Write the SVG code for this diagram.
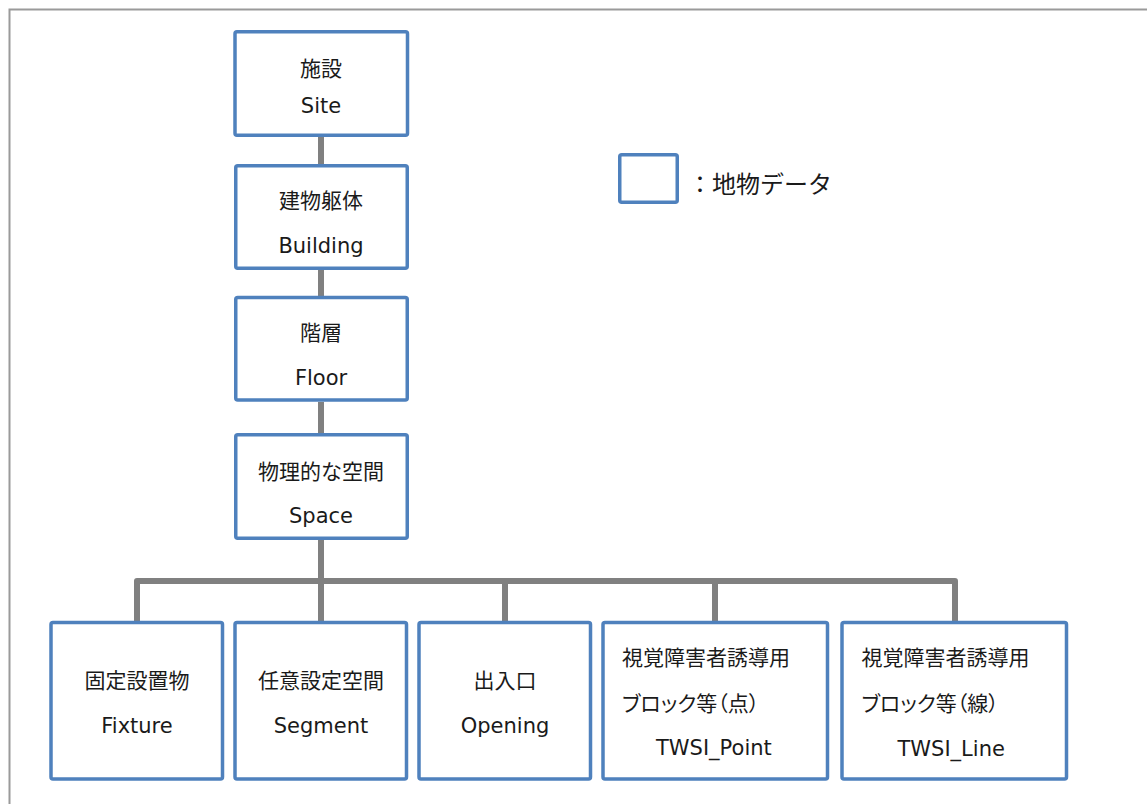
<svg xmlns="http://www.w3.org/2000/svg" width="1147" height="804" viewBox="0 0 1147 804">
<style>
.frame{fill:none;stroke:#9a9a9a;stroke-width:2}
.box{fill:#ffffff;stroke:#4f81bd;stroke-width:3.5}
.conn{fill:none;stroke:#808080;stroke-width:6;stroke-linejoin:round}
text{font-family:"DejaVu Sans","Noto Sans CJK JP",sans-serif;font-size:21px;fill:#1a1a1a}
.c{text-anchor:middle}
.palt{font-feature-settings:"palt"}
.legend{font-size:24px}
</style>
<rect width="1147" height="804" fill="#ffffff"/>
<path class="frame" d="M9.5,804 V9.5 H1147"/>
<g id="connectors">
<path class="conn" d="M321,137 V164"/>
<path class="conn" d="M321,270 V296"/>
<path class="conn" d="M321,402 V433"/>
<path class="conn" d="M321,540 V621"/>
<path class="conn" d="M137,621 V581 H955 V621"/>
<path class="conn" d="M505,581 V621"/>
<path class="conn" d="M715,581 V621"/>
</g>
<g id="site">
<rect class="box" x="235" y="31.75" width="172.5" height="103.5" rx="2"/>
<text class="c" x="321" y="76">施設</text>
<text class="c" x="321" y="113">Site</text>
</g>
<g id="building">
<rect class="box" x="235.75" y="165.75" width="171.5" height="102.5" rx="2"/>
<text class="c" x="321" y="208">建物躯体</text>
<text class="c" x="321" y="252.5">Building</text>
</g>
<g id="floor">
<rect class="box" x="235.75" y="297.5" width="171.5" height="102.5" rx="2"/>
<text class="c" x="321" y="340">階層</text>
<text class="c" x="321" y="385">Floor</text>
</g>
<g id="space">
<rect class="box" x="235.75" y="434.75" width="171.5" height="103.5" rx="2"/>
<text class="c" x="321" y="478.5">物理的な空間</text>
<text class="c" x="321" y="522.5">Space</text>
</g>
<g id="legend">
<rect class="box" x="619.75" y="154.75" width="57.5" height="47.5" rx="2"/>
<text class="legend" x="688" y="193">：地物データ</text>
</g>
<g id="fixture">
<rect class="box" x="51" y="622.5" width="171.5" height="156.5" rx="2"/>
<text class="c" x="137" y="688">固定設置物</text>
<text class="c" x="137" y="732.5">Fixture</text>
</g>
<g id="segment">
<rect class="box" x="235" y="622.5" width="171.5" height="156.5" rx="2"/>
<text class="c" x="321" y="688">任意設定空間</text>
<text class="c" x="321" y="732.5">Segment</text>
</g>
<g id="opening">
<rect class="box" x="419" y="622.5" width="171.5" height="156.5" rx="2"/>
<text class="c" x="505" y="688">出入口</text>
<text class="c" x="505" y="732.5">Opening</text>
</g>
<g id="twsi-point">
<rect class="box" x="603" y="622.5" width="224.5" height="156.5" rx="2"/>
<text x="622" y="664.5">視覚障害者誘導用</text>
<text class="palt" x="622" y="711">ブロック等（点）</text>
<text x="656" y="755">TWSI_Point</text>
</g>
<g id="twsi-line">
<rect class="box" x="842" y="622.5" width="224.5" height="156.5" rx="2"/>
<text x="861.5" y="664.5">視覚障害者誘導用</text>
<text class="palt" x="861.5" y="711">ブロック等（線）</text>
<text x="897.5" y="755.5">TWSI_Line</text>
</g>
</svg>
